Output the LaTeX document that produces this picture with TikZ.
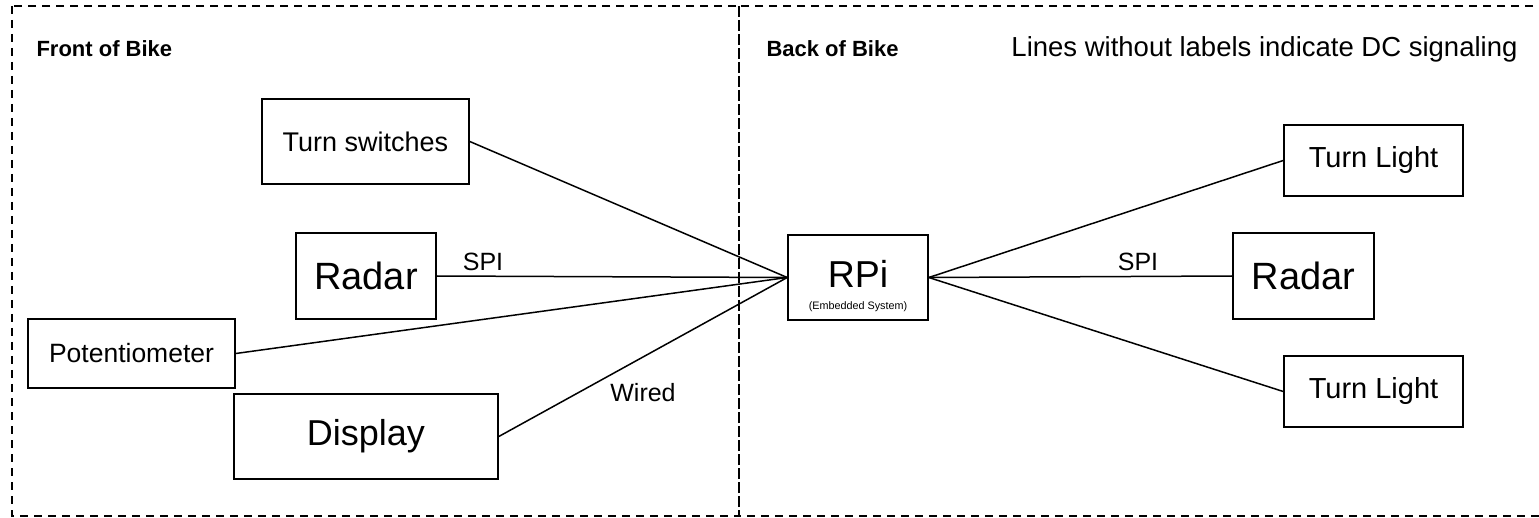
\documentclass[tikz,border=0pt]{standalone}
\usepackage{fontspec}
\setmainfont{Liberation Sans}
\begin{document}
\begin{tikzpicture}[x=1pt,y=-1pt,
  box/.style={draw,line width=1.6pt,inner sep=0pt,minimum width=#1},
  conn/.style={line width=1.5pt},
  region/.style={draw,line width=1.3pt,dash pattern=on 8pt off 6pt},
  lbl/.style={font=\fontsize{25}{30}\selectfont},
  title/.style={font=\fontsize{22}{27}\selectfont\bfseries,anchor=west}]
\useasboundingbox (0,0) rectangle (1539,518);
\draw[region] (12,6) rectangle (739,516);
\draw[region] (739,6) rectangle (1550,516);
\node[title] (front) at (33,49) {Front of Bike};
\node[title] (back) at (763,49) {Back of Bike};
\node[font=\fontsize{27.5}{33}\selectfont,anchor=east] (note) at (1521,49) {Lines without labels indicate DC signaling};
% left boxes
\node[box=207pt,minimum height=85pt,font=\fontsize{27}{32}\selectfont] (ts) at (365.5,141.5) {Turn switches};
\node[box=140pt,minimum height=86pt,font=\fontsize{38}{46}\selectfont] (radarL) at (366,276) {Radar};
\node[box=207pt,minimum height=69pt,font=\fontsize{26.5}{32}\selectfont] (pot) at (131.5,353.5) {Potentiometer};
\node[box=264pt,minimum height=85pt,font=\fontsize{36}{43}\selectfont] (disp) at (366,436.5) {Display};
% center
\node[box=140pt,minimum height=85pt] (rpi) at (858,277.5) {};
\node[font=\fontsize{37.5}{45}\selectfont] (rpit) at (858,274) {RPi};
\node[font=\fontsize{10.8}{13}\selectfont] (rpis) at (858,307) {(Embedded System)};
% right boxes
\node[box=179pt,minimum height=71pt,font=\fontsize{29}{35}\selectfont] (tl1) at (1373.5,160.5) {Turn Light};
\node[box=141pt,minimum height=86pt,font=\fontsize{38}{46}\selectfont] (radarR) at (1303.5,276) {Radar};
\node[box=179pt,minimum height=71pt,font=\fontsize{29}{35}\selectfont] (tl2) at (1373.5,391.5) {Turn Light};
% connectors
\coordinate (hubL) at (rpi.west);
\coordinate (hubR) at (rpi.east);
\draw[conn] (ts.east) -- (hubL);
\draw[conn] (radarL.east) -- (hubL);
\draw[conn] (pot.east) -- (hubL);
\draw[conn] (disp.east) -- (hubL);
\draw[conn] (hubR) -- (tl1.west);
\draw[conn] (hubR) -- (radarR.west);
\draw[conn] (hubR) -- (tl2.west);
\node[lbl] (spiL) at (483,262) {SPI};
\node[lbl] (wired) at (643,393) {Wired};
\node[lbl] (spiR) at (1138,262) {SPI};
\end{tikzpicture}
\end{document}
